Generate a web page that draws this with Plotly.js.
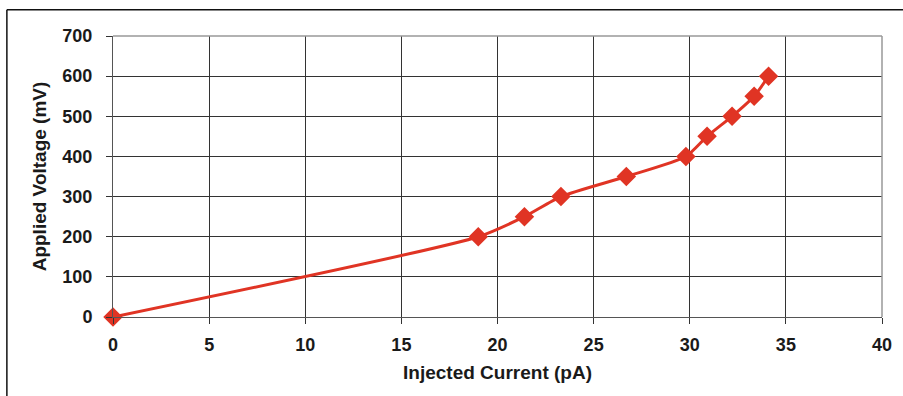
<!DOCTYPE html>
<html><head><meta charset="utf-8">
<script src="https://cdn.plot.ly/plotly-3.0.1.min.js"></script>
<style>html,body{margin:0;padding:0;background:#fff}#chart{width:903px;height:396px}</style>
</head><body><div id="chart"></div>
<script>
const current = [0, 19.0, 21.4, 23.3, 26.7, 29.8, 30.9, 32.2, 33.35, 34.1];
const voltage = [0, 200, 250, 300, 350, 400, 450, 500, 550, 600];
const xTicks = [0, 5, 10, 15, 20, 25, 30, 35, 40];
const yTicks = [0, 100, 200, 300, 400, 500, 600, 700];

const font = {family: '"Liberation Sans", Arial, sans-serif', color: '#1a1a1a'};
Plotly.newPlot('chart', [{
  x: current, y: voltage, type: 'scatter', mode: 'lines+markers',
  line: {color: '#e03424', width: 3, shape: 'spline', smoothing: 0.6},
  marker: {symbol: 'diamond', size: 15, color: '#e03424'},
  cliponaxis: false
}], {
  width: 903, height: 396,
  margin: {l: 113, r: 21, t: 36, b: 79.3},
  paper_bgcolor: '#fff', plot_bgcolor: '#fff',
  showlegend: false,
  font: font,
  xaxis: {
    range: [0, 40], tickvals: xTicks, ticktext: xTicks.map(String),
    showgrid: true, gridcolor: '#333', gridwidth: 1,
    zeroline: false, showline: true, linecolor: '#555', linewidth: 1, mirror: false,
    ticks: 'outside', ticklen: 6, tickcolor: '#333',
    tickfont: {family: font.family, size: 18, color: '#1a1a1a', weight: 'bold'},
    ticklabelstandoff: 5,
    title: {text: '<b>Injected Current (pA)</b>', font: {family: font.family, size: 19, color: '#1a1a1a'}, standoff: 12}
  },
  yaxis: {
    range: [0, 700], tickvals: yTicks, ticktext: yTicks.map(String),
    showgrid: true, gridcolor: '#333', gridwidth: 1,
    zeroline: false, showline: true, linecolor: '#555', linewidth: 1, mirror: false,
    ticks: 'outside', ticklen: 6, tickcolor: '#333',
    tickfont: {family: font.family, size: 18, color: '#1a1a1a', weight: 'bold'},
    ticklabelstandoff: 10,
    title: {text: '<b>Applied Voltage (mV)</b>', font: {family: font.family, size: 19, color: '#1a1a1a'}, standoff: 10}
  },
  shapes: [
    {type: 'line', xref: 'paper', yref: 'paper', x0: 1, x1: 1, y0: 0, y1: 1, line: {color: '#999', width: 1.5}},
    {type: 'line', xref: 'paper', yref: 'paper', x0: 0, x1: 1, y0: 1, y1: 1, line: {color: '#999', width: 1.5}},
    {type: 'line', xref: 'paper', yref: 'paper', x0: -0.138, x1: 1.1, y0: 1.093, y1: 1.093, line: {color: '#111', width: 1.5}},
    {type: 'line', xref: 'paper', yref: 'paper', x0: -0.138, x1: -0.138, y0: -0.5, y1: 1.093, line: {color: '#111', width: 1.5}}
  ]
}, {displayModeBar: false, staticPlot: true});
</script></body></html>
